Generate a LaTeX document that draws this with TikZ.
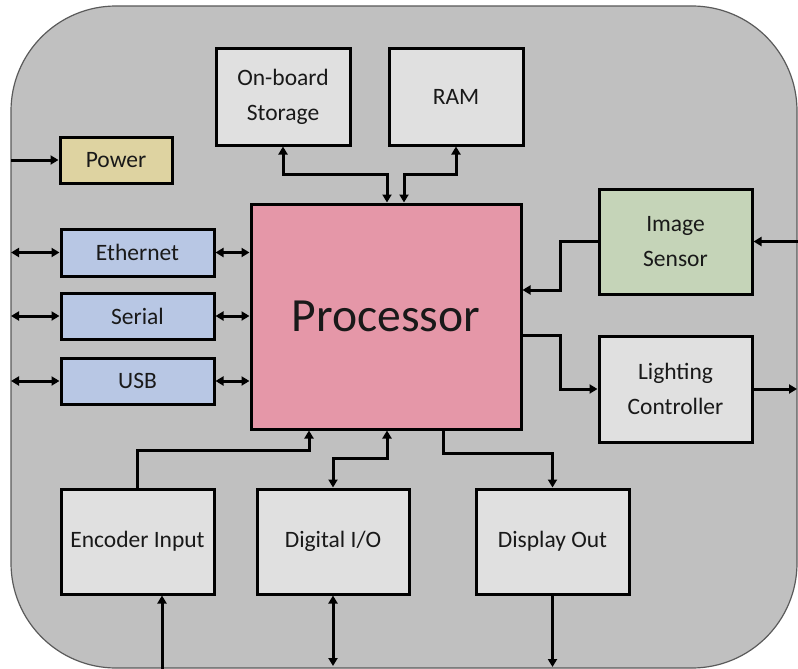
\documentclass[tikz,border=0pt]{standalone}
\usepackage{fontspec}
\setmainfont{Carlito}
\usetikzlibrary{arrows.meta}
\definecolor{bgfill}{HTML}{C0C0C0}
\definecolor{bgline}{HTML}{5A5A5A}
\definecolor{boxgray}{HTML}{E0E0E0}
\definecolor{procpink}{HTML}{E597A8}
\definecolor{ifblue}{HTML}{B8C7E4}
\definecolor{sensgreen}{HTML}{C5D4B8}
\definecolor{powtan}{HTML}{DED3A1}
\begin{document}
\begin{tikzpicture}[x=1pt,y=-1pt,
  >={Triangle[length=8pt,width=9pt]},
  blk/.style={draw=black, line width=3pt, fill=boxgray, inner sep=0pt, align=center,
    font=\fontsize{23.5}{35}\selectfont, text=black!90},
  conn/.style={line width=3pt, draw=black}]
\useasboundingbox (0,0) rectangle (798,669);
\draw[fill=bgfill, draw=bgline, line width=1.2pt, rounded corners=105pt] (11,6) rectangle (797,668);

\node[blk, minimum width=134pt, minimum height=96pt] (storage) at (283,97) {On-board\\Storage};
\node[blk, minimum width=134pt, minimum height=96pt] (ram) at (456,97) {RAM};
\node[blk, fill=powtan, minimum width=112pt, minimum height=46pt] (power) at (116,160) {Power};
\node[blk, fill=ifblue, minimum width=153pt, minimum height=47pt] (eth) at (137.5,252.5) {Ethernet};
\node[blk, fill=ifblue, minimum width=153pt, minimum height=46pt] (serial) at (137.5,316) {Serial};
\node[blk, fill=ifblue, minimum width=153pt, minimum height=46pt] (usb) at (137.5,381) {USB};
\node[blk, fill=procpink, minimum width=270pt, minimum height=225pt, font=\fontsize{47.6}{57}\selectfont] (proc) at (386,316.5) {Processor};
\node[blk, fill=sensgreen, minimum width=153pt, minimum height=105pt] (sensor) at (675.5,241.5) {Image\\Sensor};
\node[blk, minimum width=153pt, minimum height=106pt] (light) at (675.5,389) {Lighting\\Controller};
\node[blk, minimum width=153pt, minimum height=105pt] (enc) at (137.5,541.5) {Encoder Input};
\node[blk, minimum width=152pt, minimum height=105pt] (dio) at (333,541.5) {Digital I/O};
\node[blk, minimum width=153pt, minimum height=105pt] (disp) at (552.5,541.5) {Display Out};

\coordinate (powin) at (11,160);
\coordinate (ethout) at (11,252.5);
\coordinate (serout) at (11,316);
\coordinate (usbout) at (11,381);
\coordinate (sensin) at (798,241.5);
\coordinate (lightout) at (797,389);
\coordinate (encin) at (162,669);
\coordinate (dioout) at (333,666);
\coordinate (dispout) at (552.5,667);

% top
\draw[conn,<->] (387,0 |- proc.north) |- (283,174) -- (storage.south);
\draw[conn,<->] (404,0 |- proc.north) |- (456,174) -- (ram.south);
% left
\draw[conn,->] (powin) -- (power.west);
\draw[conn,<->] (ethout) -- (eth.west);
\draw[conn,<->] (serout) -- (serial.west);
\draw[conn,<->] (usbout) -- (usb.west);
\draw[conn,<->] (eth.east) -- (eth.east -| proc.west);
\draw[conn,<->] (serial.east) -- (serial.east -| proc.west);
\draw[conn,<->] (usb.east) -- (usb.east -| proc.west);
% right
\draw[conn,->] (sensor.west) -| (560,290) -- (proc.east |- 0,290);
\draw[conn,->] (sensin) -- (sensor.east);
\draw[conn,->] (proc.east |- 0,335) -| (560,389) -- (light.west);
\draw[conn,->] (light.east) -- (lightout);
% bottom
\draw[conn,->] (enc.north) |- (309,450) -- (309,0 |- proc.south);
\draw[conn,<->] (387,0 |- proc.south) |- (333,458) -- (dio.north);
\draw[conn,->] (443,0 |- proc.south) |- (552.5,453) -- (disp.north);
\draw[conn,->] (encin) -- (162,0 |- enc.south);
\draw[conn,<->] (dio.south) -- (dioout);
\draw[conn,->] (disp.south) -- (dispout);
\end{tikzpicture}
\end{document}
